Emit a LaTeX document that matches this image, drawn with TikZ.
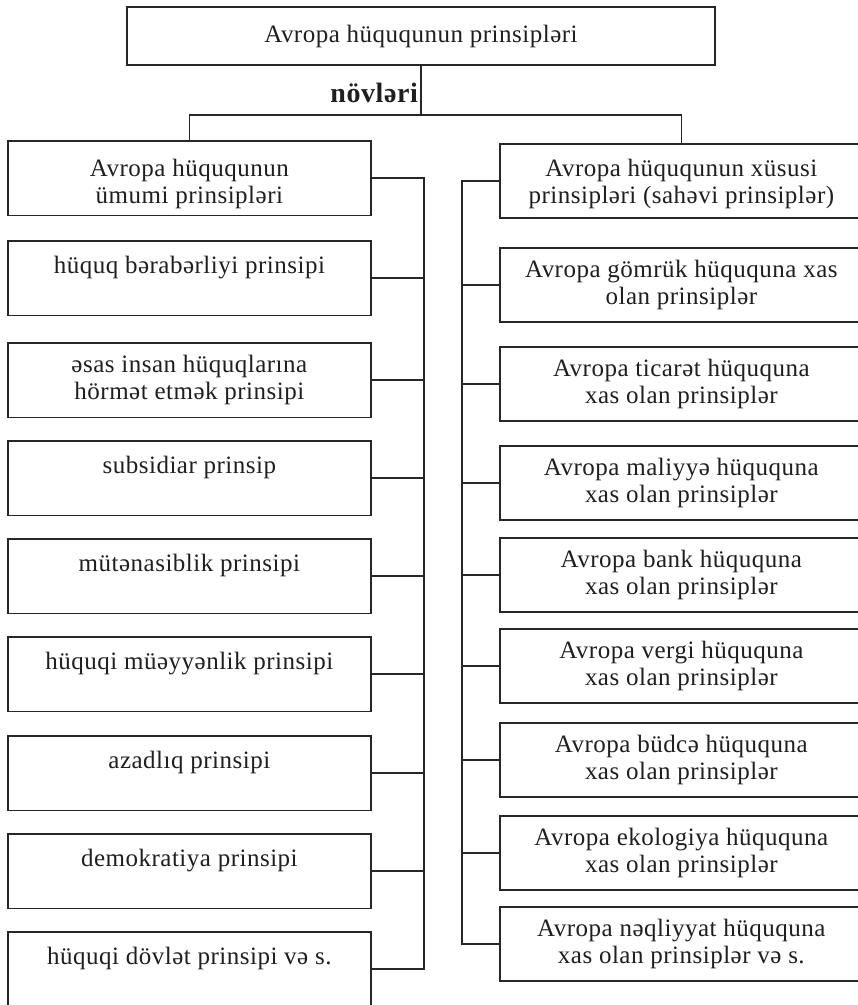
\documentclass[tikz,border=0pt]{standalone}
\usepackage{fontspec}
\setmainfont{Liberation Serif}[LetterSpace=2.0]
\begin{document}
\begin{tikzpicture}[x=1pt,y=-1pt,
  ink/.style={draw=black!85, line width=1.7pt},
  box/.style={ink, rectangle, anchor=north west, inner sep=0pt, align=center,
    text=black!88, font=\fontsize{25}{27.5}\selectfont},
  lbox/.style={box, minimum width=363pt, minimum height=74.5pt},
  rbox/.style={box, minimum width=363pt, minimum height=74pt},
  topbox/.style={box, anchor=center, minimum width=588pt, minimum height=58pt},
  heading/.style={anchor=east, inner sep=0pt, text=black!88,
    font=\fontsize{28}{32}\selectfont\bfseries},
  link/.style={ink, line cap=rect}]
% a single line of text kept in the upper half of its box
\newcommand{\upperline}[1]{#1\\\mbox{}}
% a taller first line pushes a two-line block a little lower
\newcommand{\dropby}[1]{\rule{0pt}{#1}}
% page
\fill[white] (0,0) rectangle (858,1005);
\useasboundingbox (0,0) rectangle (858,1005);

% root and heading
\node[topbox] (root) at (421,36) {Avropa hüququnun prinsipləri};
\node[heading] (kind) at (418,93) {növləri};
\coordinate (hub) at (421,115);

% general principles (left column)
\node[lbox] (l1) at (7,140) {\dropby{29pt}Avropa hüququnun\\ümumi prinsipləri};
\node[lbox] (l2) at (7,240) {\upperline{hüquq bərabərliyi prinsipi}};
\node[lbox] (l3) at (7,342) {əsas insan hüquqlarına\\hörmət etmək prinsipi};
\node[lbox] (l4) at (7,440) {\upperline{subsidiar prinsip}};
\node[lbox] (l5) at (7,538) {\upperline{mütənasiblik prinsipi}};
\node[lbox] (l6) at (7,636) {\upperline{hüquqi müəyyənlik prinsipi}};
\node[lbox] (l7) at (7,735) {\upperline{azadlıq prinsipi}};
\node[lbox] (l8) at (7,833) {\upperline{demokratiya prinsipi}};
\node[lbox] (l9) at (7,931) {\upperline{hüquqi dövlət prinsipi və s.}};

% branch principles (right column)
\node[rbox] (r1) at (499,143) {\dropby{23.5pt}Avropa hüququnun xüsusi\\prinsipləri (sahəvi prinsiplər)};
\node[rbox] (r2) at (499,247) {Avropa gömrük hüququna xas\\olan prinsiplər};
\node[rbox] (r3) at (499,346) {Avropa ticarət hüququna\\xas olan prinsiplər};
\node[rbox] (r4) at (499,445) {Avropa maliyyə hüququna\\xas olan prinsiplər};
\node[rbox] (r5) at (499,537) {Avropa bank hüququna\\xas olan prinsiplər};
\node[rbox] (r6) at (499,628) {Avropa vergi hüququna\\xas olan prinsiplər};
\node[rbox] (r7) at (499,722) {Avropa büdcə hüququna\\xas olan prinsiplər};
\node[rbox] (r8) at (499,815) {Avropa ekologiya hüququna\\xas olan prinsiplər};
\node[rbox] (r9) at (499,906) {Avropa nəqliyyat hüququna\\xas olan prinsiplər və s.};

% vertical buses
\coordinate (lbus) at (424,0);
\coordinate (rbus) at (462,0);

% root to the two groups
\draw[link] (root.south) -- (hub);
\draw[link] (l1.north) |- (hub) -| (r1.north);

% left column connectors
\draw[link] (l1.east -| lbus) -- (l9.east -| lbus);
\foreach \n in {l1,l2,l3,l4,l5,l6,l7,l8,l9}
  \draw[link] (\n.east) -- (\n.east -| lbus);

% right column connectors
\draw[link] (r1.west -| rbus) -- (r9.west -| rbus);
\foreach \n in {r1,r2,r3,r4,r5,r6,r7,r8,r9}
  \draw[link] (\n.west) -- (\n.west -| rbus);
\end{tikzpicture}
\end{document}
